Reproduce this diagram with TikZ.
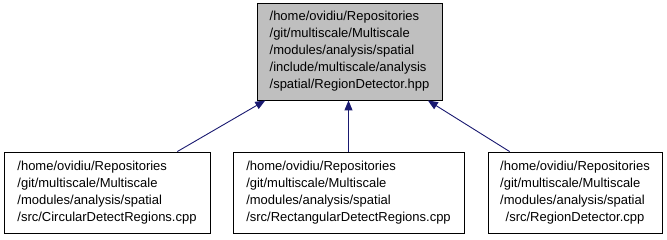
\documentclass[tikz,border=0pt]{standalone}
\usepackage{fontspec}
\setmainfont{Liberation Sans}
\usetikzlibrary{arrows.meta}
\definecolor{edgeblue}{HTML}{191970}
\definecolor{boxgray}{HTML}{BFBFBF}
\tikzset{
  x=1pt, y=-1pt,
  filebox/.style={draw=black, line width=0.9pt, fill=white, inner sep=0pt,
    font=\fontsize{13}{17}\selectfont},
  mainbox/.style={filebox, fill=boxgray},
  dep/.style={draw=edgeblue, line width=0.9pt,
    {Triangle[length=10pt,width=8pt]}-},
}
\newcommand{\pathlines}[1]{\begin{tabular}{@{}l@{}}#1\end{tabular}}
\begin{document}
\begin{tikzpicture}
\useasboundingbox (0,0) rectangle (667,240);
% included header
\node[mainbox, minimum width=185pt, minimum height=97pt] (hdr) at (349.5,51.5)
  {\pathlines{/home/ovidiu/Repositories\\/git/multiscale/Multiscale\\/modules/analysis/spatial\\/include/multiscale/analysis\\/spatial/RegionDetector.hpp}};
% source files that include it
\node[filebox, minimum width=206pt, minimum height=81pt] (circ) at (107,192.5)
  {\pathlines{/home/ovidiu/Repositories\\/git/multiscale/Multiscale\\/modules/analysis/spatial\\/src/CircularDetectRegions.cpp}};
\node[filebox, minimum width=231pt, minimum height=81pt] (rect) at (348.5,192.5)
  {\pathlines{/home/ovidiu/Repositories\\/git/multiscale/Multiscale\\/modules/analysis/spatial\\/src/RectangularDetectRegions.cpp}};
\node[filebox, minimum width=174pt, minimum height=81pt] (regdet) at (575,192.5)
  {\pathlines{/home/ovidiu/Repositories\\/git/multiscale/Multiscale\\/modules/analysis/spatial\\\multicolumn{1}{@{}c@{}}{/src/RegionDetector.cpp}}};
% include dependencies
\draw[dep] (hdr) -- (circ);
\draw[dep] (hdr.south -| rect.north) -- (rect.north);
\draw[dep] (hdr) -- (regdet);
\end{tikzpicture}
\end{document}
